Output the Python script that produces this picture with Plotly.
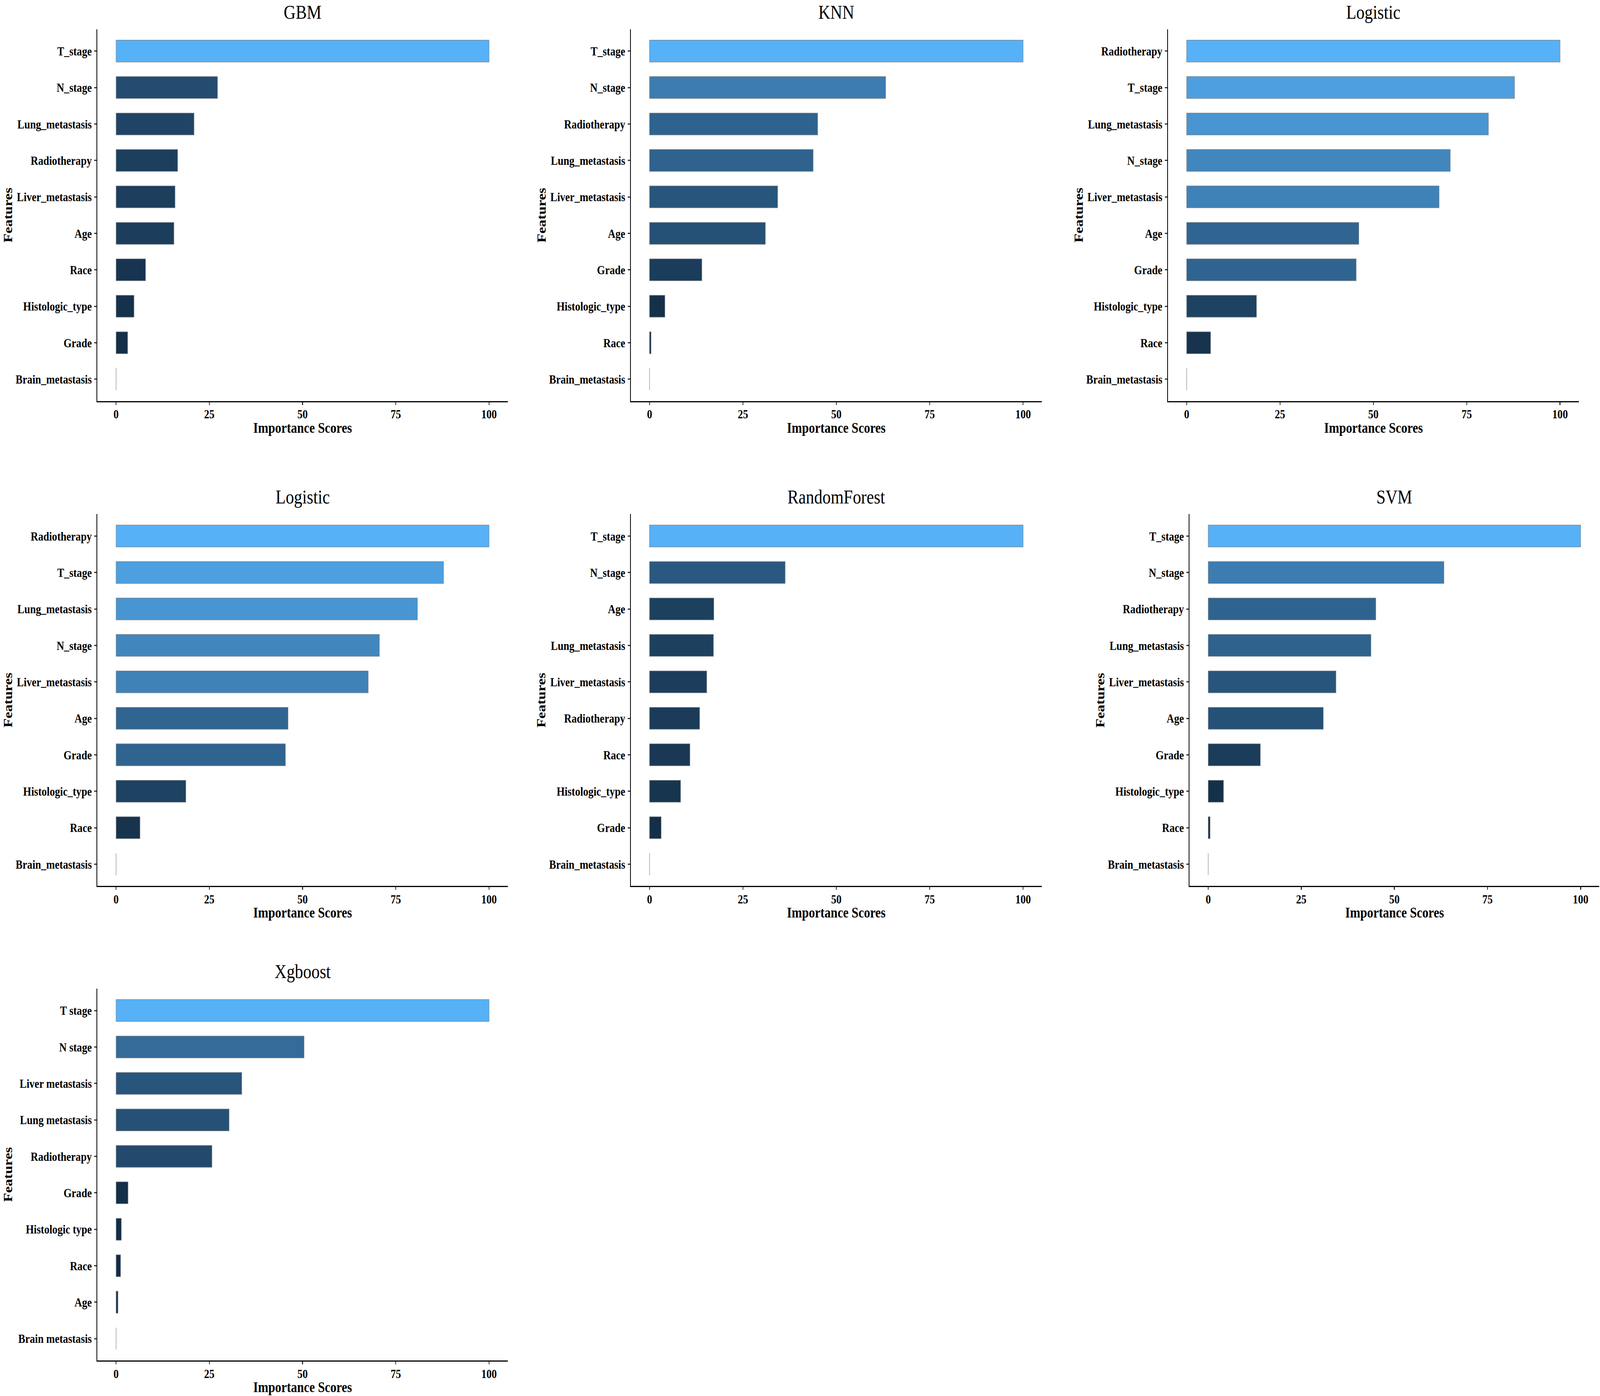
import plotly.graph_objects as go

# ---------------- data ----------------
gbm_features = ["T_stage", "N_stage", "Lung_metastasis", "Radiotherapy", "Liver_metastasis",
                "Age", "Race", "Histologic_type", "Grade", "Brain_metastasis"]
gbm_values = [100, 27.2, 20.9, 16.5, 15.8, 15.5, 7.9, 4.8, 3.1, 0]

knn_features = ["T_stage", "N_stage", "Radiotherapy", "Lung_metastasis", "Liver_metastasis",
                "Age", "Grade", "Histologic_type", "Race", "Brain_metastasis"]
knn_values = [100, 63.2, 45.0, 43.8, 34.3, 31.0, 14.0, 4.1, 0.4, 0]

logistic_features = ["Radiotherapy", "T_stage", "Lung_metastasis", "N_stage", "Liver_metastasis",
                     "Age", "Grade", "Histologic_type", "Race", "Brain_metastasis"]
logistic_values = [100, 87.8, 80.8, 70.6, 67.6, 46.1, 45.4, 18.7, 6.4, 0]

rf_features = ["T_stage", "N_stage", "Age", "Lung_metastasis", "Liver_metastasis",
               "Radiotherapy", "Race", "Histologic_type", "Grade", "Brain_metastasis"]
rf_values = [100, 36.3, 17.2, 17.1, 15.3, 13.4, 10.8, 8.3, 3.1, 0]

svm_features = ["T_stage", "N_stage", "Radiotherapy", "Lung_metastasis", "Liver_metastasis",
                "Age", "Grade", "Histologic_type", "Race", "Brain_metastasis"]
svm_values = [100, 63.3, 45.0, 43.7, 34.3, 30.9, 14.0, 4.1, 0.5, 0]

xgb_features = ["T stage", "N stage", "Liver metastasis", "Lung metastasis", "Radiotherapy",
                "Grade", "Histologic type", "Race", "Age", "Brain metastasis"]
xgb_values = [100, 50.4, 33.7, 30.3, 25.7, 3.2, 1.4, 1.2, 0.5, 0]

panel_titles = ["GBM", "KNN", "Logistic", "Logistic", "RandomForest", "SVM", "Xgboost"]
x_ticks = [0, 25, 50, 75, 100]
x_title = "Importance Scores"
y_title = "Features"

panels = [
    (gbm_features, gbm_values),
    (knn_features, knn_values),
    (logistic_features, logistic_values),
    (logistic_features, logistic_values),
    (rf_features, rf_values),
    (svm_features, svm_values),
    (xgb_features, xgb_values),
]

# ---------------- layout geometry ----------------
W, H = 4929, 3574
x_domains = [
    [0.0609, 0.3173], [0.3943, 0.6511], [0.7300, 0.9867],
    [0.0609, 0.3173], [0.3943, 0.6511], [0.7435, 0.9995],
    [0.0609, 0.3173],
]
y_domains = [
    [0.7127, 0.9791], [0.7127, 0.9791], [0.7127, 0.9791],
    [0.3653, 0.6317], [0.3653, 0.6317], [0.3653, 0.6317],
    [0.0254, 0.2918],
]

# ---------------- ggplot2 default continuous fill (Lab interpolation) ----------------
LOW, HIGH = "#132B43", "#56B1F7"


def _hex2rgb(h):
    h = h.lstrip("#")
    return [int(h[i:i + 2], 16) / 255 for i in (0, 2, 4)]


def _srgb2lin(c):
    return c / 12.92 if c <= 0.04045 else ((c + 0.055) / 1.055) ** 2.4


def _lin2srgb(c):
    c = max(0.0, min(1.0, c))
    return 12.92 * c if c <= 0.0031308 else 1.055 * c ** (1 / 2.4) - 0.055


WHITE = (0.95047, 1.0, 1.08883)


def _rgb2lab(rgb):
    r, g, b = [_srgb2lin(c) for c in rgb]
    X = 0.4124564 * r + 0.3575761 * g + 0.1804375 * b
    Y = 0.2126729 * r + 0.7151522 * g + 0.0721750 * b
    Z = 0.0193339 * r + 0.1191920 * g + 0.9503041 * b

    def f(t):
        return t ** (1 / 3) if t > 216 / 24389 else (24389 / 27 * t + 16) / 116

    fx, fy, fz = f(X / WHITE[0]), f(Y / WHITE[1]), f(Z / WHITE[2])
    return (116 * fy - 16, 500 * (fx - fy), 200 * (fy - fz))


def _lab2rgb(lab):
    L, a, b = lab
    fy = (L + 16) / 116
    fx = fy + a / 500
    fz = fy - b / 200

    def finv(t):
        return t ** 3 if t ** 3 > 216 / 24389 else (116 * t - 16) / (24389 / 27)

    X, Y, Z = finv(fx) * WHITE[0], finv(fy) * WHITE[1], finv(fz) * WHITE[2]
    r = 3.2404542 * X - 1.5371385 * Y - 0.4985314 * Z
    g = -0.9692660 * X + 1.8760108 * Y + 0.0415560 * Z
    bb = 0.0556434 * X - 0.2040259 * Y + 1.0572252 * Z
    return [round(_lin2srgb(c) * 255) for c in (r, g, bb)]


LAB_LOW, LAB_HIGH = _rgb2lab(_hex2rgb(LOW)), _rgb2lab(_hex2rgb(HIGH))


def fill_for(v, vmin, vmax):
    t = 0 if vmax == vmin else (v - vmin) / (vmax - vmin)
    lab = [lo + (hi - lo) * t for lo, hi in zip(LAB_LOW, LAB_HIGH)]
    r, g, b = _lab2rgb(lab)
    return f"rgb({r},{g},{b})"


# ---------------- figure ----------------
SERIF = "Liberation Serif"
fig = go.Figure()
annotations = []

for i, (feats, vals) in enumerate(panels):
    n = i + 1
    xa = "x" if n == 1 else f"x{n}"
    ya = "y" if n == 1 else f"y{n}"
    # plot lowest first so the most important is on top
    f_rev = feats[::-1]
    v_rev = vals[::-1]
    vmin, vmax = min(vals), max(vals)
    colors = [fill_for(v, vmin, vmax) for v in v_rev]
    fig.add_trace(go.Bar(
        x=v_rev, y=f_rev, orientation="h", xaxis=xa, yaxis=ya,
        width=0.6,
        marker=dict(color=colors, line=dict(color="rgba(120,130,140,0.9)", width=1.5)),
        showlegend=False, hoverinfo="x+y",
    ))

    axis_common = dict(
        showline=True, linecolor="black", linewidth=3,
        showgrid=False, zeroline=False,
        ticks="outside", ticklen=7, tickwidth=3, tickcolor="#333333",
        tickfont=dict(family=SERIF, size=32, color="black", weight="bold"),
    )
    fig.update_layout(**{
        ("xaxis" if n == 1 else f"xaxis{n}"): dict(
            domain=x_domains[i], anchor=ya, range=[-5, 105],
            tickmode="array", tickvals=x_ticks, ticktext=[str(t) for t in x_ticks],
            ticklabelstandoff=-4,
            **axis_common),
        ("yaxis" if n == 1 else f"yaxis{n}"): dict(
            domain=y_domains[i], anchor=xa, type="category",
            categoryorder="array", categoryarray=f_rev, range=[-0.6, 9.6],
            ticklabelstandoff=1,
            **axis_common),
    })

    annotations.append(dict(
        text=panel_titles[i], xref=f"{xa} domain", yref=f"{ya} domain",
        x=0.5, y=1, yshift=44, xanchor="center", yanchor="middle", showarrow=False,
        font=dict(family=SERIF, size=51, color="black")))
    annotations.append(dict(
        text=x_title, xref=f"{xa} domain", yref=f"{ya} domain",
        x=0.5, y=0, yshift=-68, xanchor="center", yanchor="middle", showarrow=False,
        font=dict(family=SERIF, size=38, color="black", weight="bold")))
    annotations.append(dict(
        text=y_title, xref=f"{xa} domain", yref=f"{ya} domain",
        x=0, y=0.5, xshift=-276, xanchor="center", yanchor="middle", showarrow=False,
        textangle=-90,
        font=dict(family=SERIF, size=38, color="black", weight="bold")))

fig.update_layout(
    width=W, height=H,
    margin=dict(l=0, r=0, t=0, b=0),
    paper_bgcolor="white", plot_bgcolor="white",
    bargap=0.4,
    annotations=annotations,
)

# map the fixed 4929x3574 figure onto the whole visible viewport
fit_script = """
(function(){
  var gd = document.getElementById('{plot_id}');
  var de = document.documentElement;
  de.style.margin = '0'; de.style.padding = '0'; de.style.overflow = 'hidden';
  document.body.style.margin = '0'; document.body.style.padding = '0';
  document.body.style.overflow = 'hidden';
  var W = %d, H = %d;
  var vw = de.clientWidth || window.innerWidth;
  var vh = de.clientHeight || window.innerHeight;
  var sx = vw / W, sy = vh / H;
  if (Math.abs(sx - 1) > 0.001 || Math.abs(sy - 1) > 0.001) {
    var inner = gd.querySelector('.plot-container') || gd.firstElementChild;
    gd.style.width = vw + 'px';
    gd.style.height = vh + 'px';
    gd.style.overflow = 'hidden';
    inner.style.transformOrigin = '0 0';
    inner.style.transform = 'scale(' + sx + ',' + sy + ')';
  }
})();
""" % (W, H)

fig.write_html("out.html", post_script=fit_script,
               config={"displayModeBar": False, "responsive": False})
